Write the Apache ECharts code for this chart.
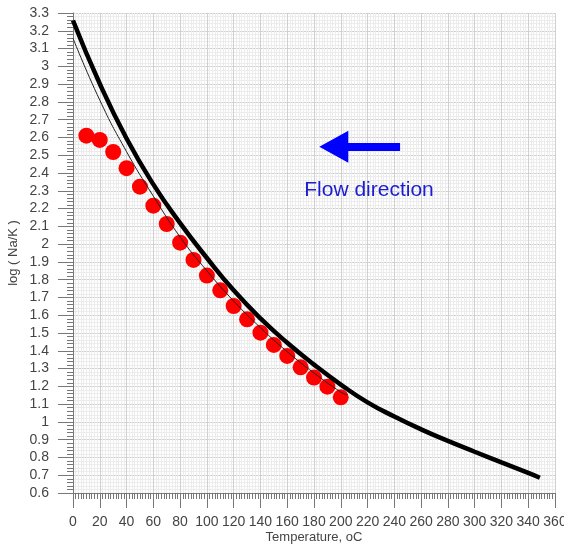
<!DOCTYPE html>
<html>
<head>
<meta charset="utf-8">
<script src="https://cdn.jsdelivr.net/npm/echarts@6/dist/echarts.min.js"></script>
<style>
  html, body { margin: 0; padding: 0; background: #fff; }
  #chart { width: 564px; height: 548px; }
</style>
</head>
<body>
<div id="chart"></div>
<script>
// measured points (red dots)
var dotTemp = [10, 20, 30, 40, 50, 60, 70, 80, 90, 100, 110, 120, 130, 140, 150, 160, 170, 180, 190, 200];
var dotLog = [2.61, 2.586, 2.518, 2.427, 2.323, 2.216, 2.113, 2.008, 1.911, 1.823, 1.74, 1.652, 1.577, 1.502, 1.433, 1.371, 1.307, 1.249, 1.198, 1.138];

// thick curve
var thickTemp = [0, 20, 40, 60, 80, 100, 120, 140, 160, 180, 200, 220, 240, 260, 280, 300, 320, 340, 348.7];
var thickLog = [3.258, 2.902, 2.594, 2.336, 2.118, 1.922, 1.74, 1.582, 1.445, 1.322, 1.21, 1.11, 1.03, 0.958, 0.893, 0.832, 0.772, 0.713, 0.686];

// thin curve
var thinTemp = [0, 20, 40, 60, 80, 100, 120, 140, 160, 180, 200, 204.5];
var thinLog = [3.158, 2.81, 2.52, 2.27, 2.04, 1.85, 1.68, 1.53, 1.395, 1.275, 1.168, 1.152];

function pairs(xs, ys) {
  return xs.map(function (x, i) { return [x, ys[i]]; });
}

var myChart = echarts.init(document.getElementById('chart'));
var labelColor = '#444';
var font = 'Liberation Sans';

myChart.setOption({
  animation: false,
  backgroundColor: '#fff',
  grid: { left: 73, right: 9, top: 13, bottom: 55, containLabel: false, outerBoundsMode: 'none' },
  xAxis: {
    type: 'value',
    min: 0,
    max: 360,
    interval: 20,
    name: 'Temperature, oC',
    nameLocation: 'middle',
    nameGap: 38,
    nameMoveOverlap: false,
    nameTextStyle: { color: labelColor, fontSize: 13, fontFamily: font },
    axisLine: { lineStyle: { color: '#777', width: 1 } },
    axisTick: { length: 15, lineStyle: { color: '#777' } },
    minorTick: { show: true, splitNumber: 10, length: 6, lineStyle: { color: '#777' } },
    axisLabel: { interval: 0, margin: 22, color: labelColor, fontSize: 14, fontFamily: font },
    splitLine: { show: true, lineStyle: { color: '#d0d0d0', width: 1 } },
    minorSplitLine: { show: true, lineStyle: { color: '#ececec', width: 1 } }
  },
  yAxis: {
    type: 'value',
    min: 0.6,
    max: 3.3,
    interval: 0.1,
    name: 'log ( Na/K )',
    nameLocation: 'middle',
    nameGap: 53,
    nameMoveOverlap: false,
    nameTextStyle: { color: labelColor, fontSize: 13, fontFamily: font },
    axisLine: { show: true, lineStyle: { color: '#777', width: 1 } },
    axisTick: { show: true, length: 15, lineStyle: { color: '#777' } },
    minorTick: { show: true, splitNumber: 5, length: 6, lineStyle: { color: '#777' } },
    axisLabel: {
      margin: 24, color: labelColor, fontSize: 14, fontFamily: font,
      formatter: function (v) { return String(+v.toFixed(1)); }
    },
    splitLine: { show: true, lineStyle: { color: '#d0d0d0', width: 1 } },
    minorSplitLine: { show: true, lineStyle: { color: '#ececec', width: 1 } }
  },
  series: [
    {
      name: 'measured',
      type: 'scatter',
      symbolSize: 16,
      itemStyle: { color: '#ff0000', opacity: 1 },
      z: 2,
      data: pairs(dotTemp, dotLog)
    },
    {
      name: 'thick',
      type: 'line',
      smooth: 0.5,
      showSymbol: false,
      lineStyle: { color: '#000', width: 4.5 },
      z: 3,
      data: pairs(thickTemp, thickLog)
    },
    {
      name: 'thin',
      type: 'line',
      smooth: 0.5,
      showSymbol: false,
      lineStyle: { color: '#222', width: 1 },
      z: 4,
      data: pairs(thinTemp, thinLog),
      // flow direction arrow
      markLine: {
        silent: true,
        animation: false,
        symbol: ['none', 'triangle'],
        symbolSize: [32, 29],
        label: { show: false },
        lineStyle: { color: '#0000ff', width: 8, type: 'solid' },
        itemStyle: { color: '#0000ff' },
        data: [[{ coord: [244.3, 2.548] }, { coord: [194.8, 2.548] }]]
      }
    }
  ],
  graphic: [
    {
      type: 'text',
      x: 369,
      y: 190,
      z: 10,
      style: {
        text: 'Flow direction',
        fill: '#1c1cd0',
        stroke: null,
        lineWidth: 0,
        fontSize: 21,
        fontFamily: font,
        align: 'center',
        verticalAlign: 'middle'
      }
    }
  ]
});
</script>
</body>
</html>
